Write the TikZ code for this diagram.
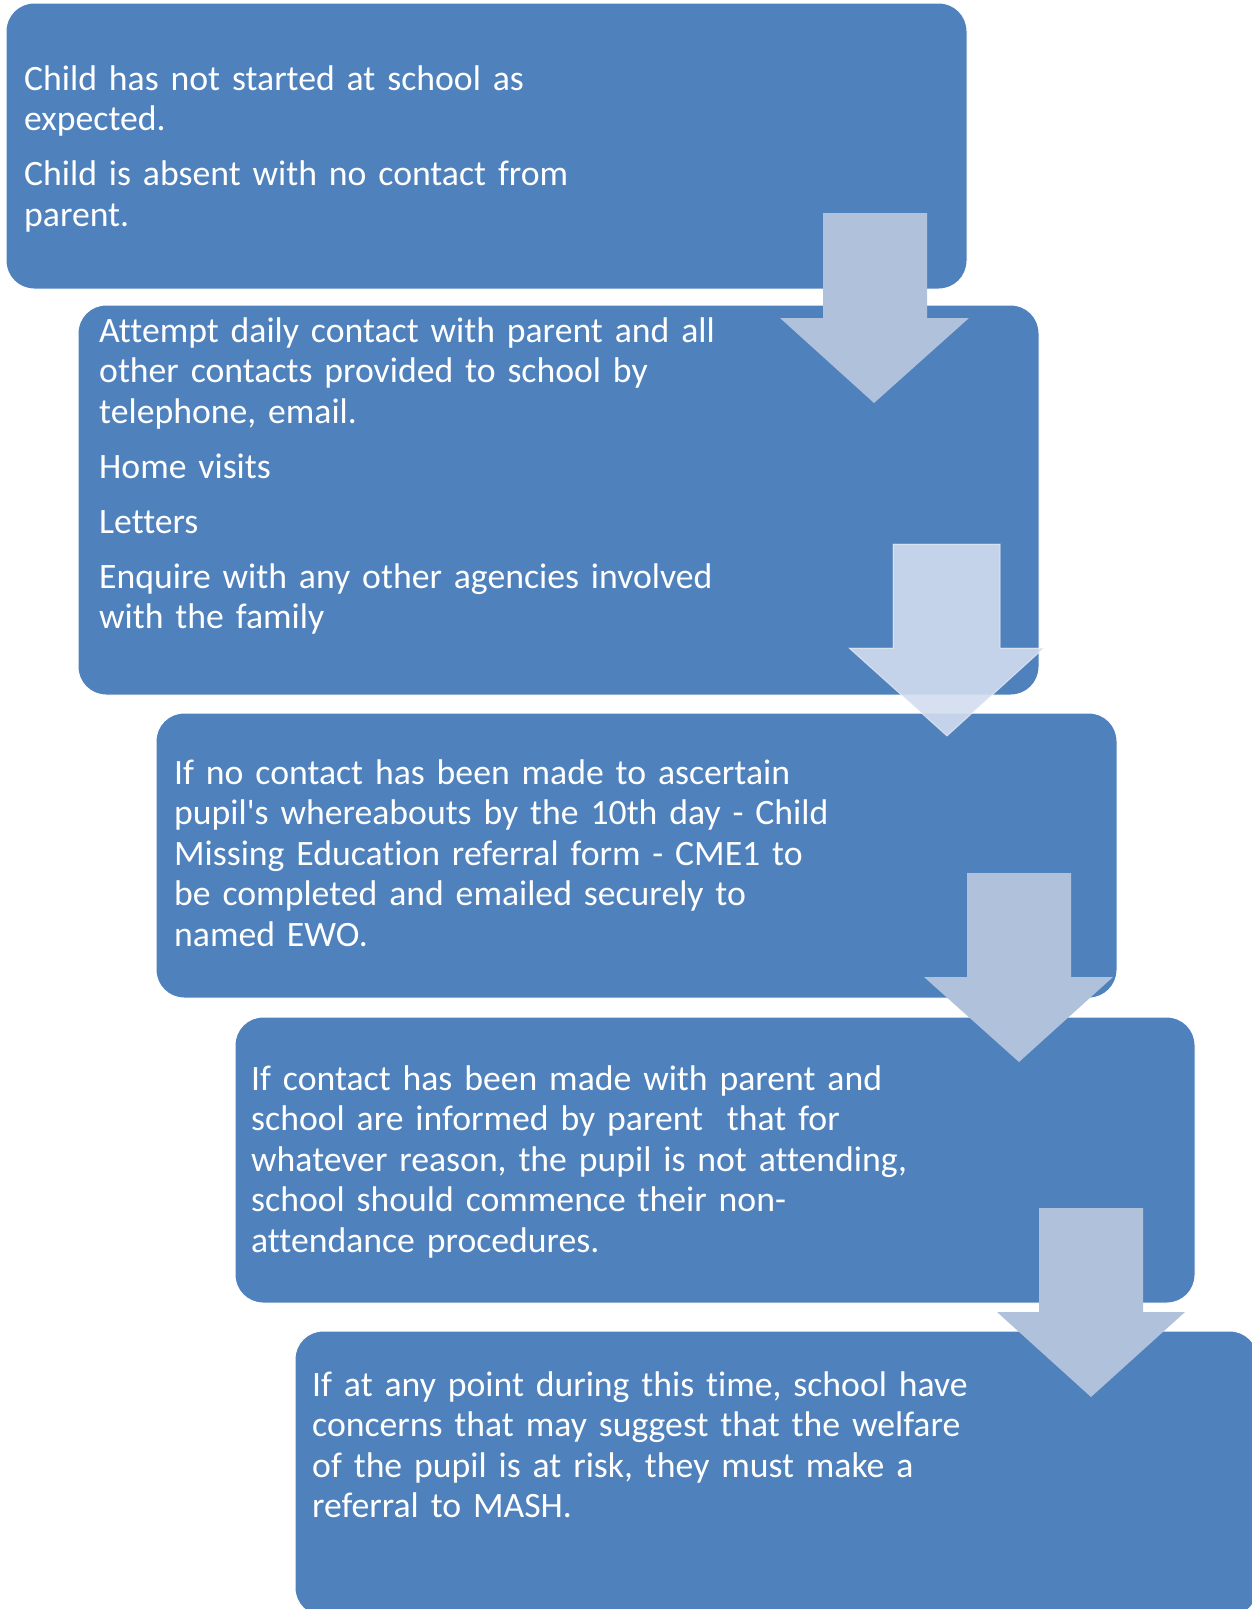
\documentclass[tikz,border=0pt]{standalone}
\usepackage{fontspec}
\setmainfont{Carlito}[Ligatures={NoCommon}]
\definecolor{boxblue}{RGB}{79,129,189}
\definecolor{arrowblue}{RGB}{176,193,219}
\definecolor{arrowlight}{RGB}{210,221,239}
\tikzset{
  stepbox/.style={fill=boxblue, draw=white, line width=1pt, rounded corners=28pt},
  steptext/.style={anchor=base west, inner sep=0pt, text=white, text width=900pt, align=left,
    font=\fontsize{35.7}{40.5}\selectfont},
  blockarrow/.style={fill=arrowblue, draw=none},
  blockarrowlight/.style={fill=arrowlight, fill opacity=0.9, draw=white, draw opacity=0.5, line width=1pt}
}
\newcommand{\pgap}{\\[14.5pt]}
\begin{document}
\begin{tikzpicture}[x=1pt,y=-1pt]
\useasboundingbox (0,0) rectangle (1252,1609);
\clip (0,0) rectangle (1252,1609);
% boxes
\draw[stepbox] (6,3) rectangle (967,289);
\draw[stepbox] (78,305) rectangle (1039,695);
\draw[stepbox] (156,713) rectangle (1117,998);
\draw[stepbox] (235,1017) rectangle (1195,1303);
\draw[stepbox] (295,1331) rectangle (1258,1616);
% texts
\node[steptext] (t1) at (24,90) {Child has not started at school as\\expected.\pgap Child is absent with no contact from\\parent.};
\node[steptext] (t2) at (99,342) {Attempt daily contact with parent and all\\other contacts provided to school by\\telephone, email.\pgap Home visits\pgap Letters\pgap Enquire with any other agencies involved\\with the family};
\node[steptext] (t3) at (174,784) {If no contact has been made to ascertain\\pupil\textquotesingle s whereabouts by the 10th day - Child\\Missing Education referral form - CME1 to\\be completed and emailed securely to\\named EWO.};
\node[steptext] (t4) at (251,1090) {If contact has been made with parent and\\school are informed by parent\ \ that for\\whatever reason, the pupil is not attending,\\school should commence their non-\\attendance procedures.};
\node[steptext] (t5) at (312,1396) {If at any point during this time, school have\\concerns that may suggest that the welfare\\of the pupil is at risk, they must make a\\referral to MASH.};
% arrows
\fill[blockarrow] (823,213) -- (927,213) -- (927,318) -- (969,318) -- (874,403) -- (780,318) -- (823,318) -- cycle;
\filldraw[blockarrowlight] (893,544) -- (1000,544) -- (1000,648) -- (1044,648) -- (947,736) -- (849,648) -- (893,648) -- cycle;
\fill[blockarrow] (967,873) -- (1071,873) -- (1071,977) -- (1113,977) -- (1019,1062) -- (924,977) -- (967,977) -- cycle;
\fill[blockarrow] (1039,1208) -- (1143,1208) -- (1143,1312) -- (1185,1312) -- (1091,1397) -- (997,1312) -- (1039,1312) -- cycle;
\end{tikzpicture}
\end{document}
